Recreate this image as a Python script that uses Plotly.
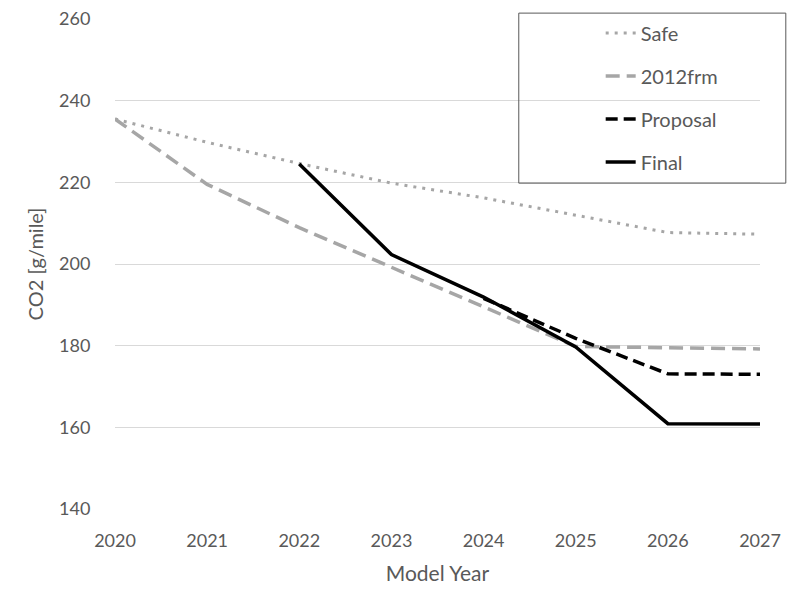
import plotly.graph_objects as go

years = [2020, 2021, 2022, 2023, 2024, 2025, 2026, 2027]
safe = [235.5, 229.8, 224.6, 219.8, 216.2, 212.0, 207.7, 207.3]
frm2012 = [235.5, 219.5, 208.9, 199.2, 189.6, 179.8, 179.5, 179.2]
proposal_years = [2024, 2025, 2026, 2027]
proposal = [191.6, 181.8, 173.1, 173.0]
final_years = [2022, 2023, 2024, 2025, 2026, 2027]
final = [224.5, 202.3, 191.9, 179.7, 160.9, 160.8]

xticks = [2020, 2021, 2022, 2023, 2024, 2025, 2026, 2027]
yticks = [140, 160, 180, 200, 220, 240, 260]

FONT = "Lato"
TXT = "#595959"

fig = go.Figure()
fig.add_trace(go.Scatter(x=years, y=safe, name="Safe", mode="lines", legendgroup="a",
                         line=dict(color="#a6a6a6", width=3, dash="3px,6px")))
fig.add_trace(go.Scatter(x=years, y=frm2012, name="2012frm", mode="lines", legendgroup="b",
                         line=dict(color="#a6a6a6", width=3.5, dash="14px,7px")))
fig.add_trace(go.Scatter(x=proposal_years, y=proposal, name="Proposal", mode="lines", legendgroup="c",
                         line=dict(color="#000000", width=3.5, dash="12px,6px")))
fig.add_trace(go.Scatter(x=final_years, y=final, name="Final", mode="lines", legendgroup="d",
                         line=dict(color="#000000", width=3.5)))

fig.update_layout(
    width=800, height=602,
    margin=dict(l=115, r=40, t=19, b=93, autoexpand=False),
    paper_bgcolor="white", plot_bgcolor="white",
    font=dict(family=FONT, size=18, color=TXT),
    showlegend=True,
    legend=dict(x=0.753, y=1.011, xanchor="left", yanchor="top",
                bgcolor="rgba(0,0,0,0)", borderwidth=0,
                traceorder="grouped", tracegroupgap=14,
                font=dict(family=FONT, size=20, color=TXT)),
    shapes=[dict(type="rect", xref="paper", yref="paper",
                 x0=0.626, x1=1.040, y0=0.665, y1=1.012,
                 line=dict(color="#595959", width=1), fillcolor="rgba(0,0,0,0)")],
)
fig.update_xaxes(range=[2020, 2027], tickmode="array", tickvals=xticks,
                 ticktext=[str(v) for v in xticks],
                 showgrid=False, zeroline=False, showline=False,
                 ticks="outside", ticklen=15, tickcolor="rgba(0,0,0,0)",
                 tickfont=dict(family=FONT, size=18, color=TXT),
                 title=dict(text="Model Year", font=dict(family=FONT, size=21, color=TXT), standoff=16))
fig.update_yaxes(range=[140, 260], tickmode="array", tickvals=yticks,
                 showgrid=True, gridcolor="#d9d9d9", gridwidth=1,
                 zeroline=False, showline=False,
                 ticks="outside", ticklen=20, tickcolor="rgba(0,0,0,0)",
                 tickfont=dict(family=FONT, size=18, color=TXT),
                 title=dict(text="CO2 [g/mile]", font=dict(family=FONT, size=20, color=TXT), standoff=10))

fig.write_html("out.html", config={"displayModeBar": False},
               post_script="document.body.style.margin='0px';")
